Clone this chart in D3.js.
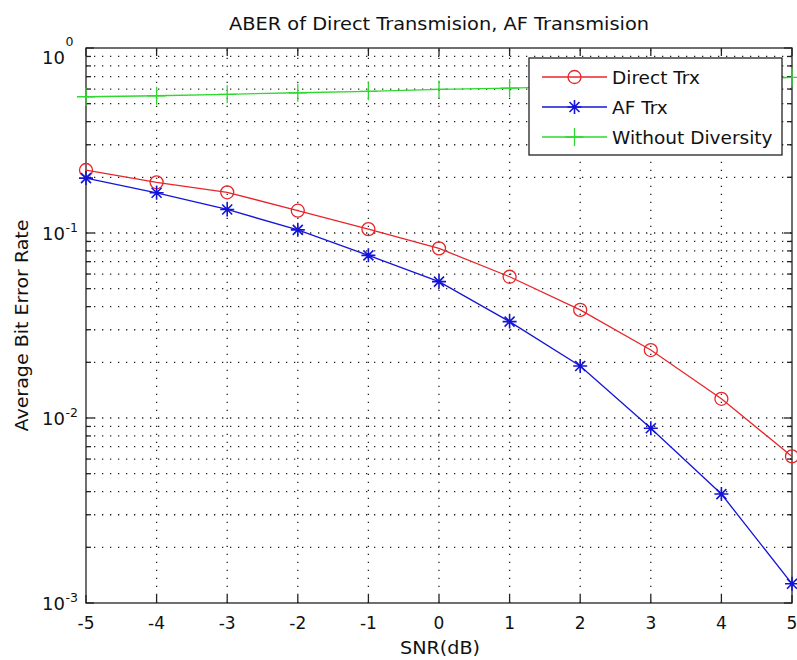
<!DOCTYPE html>
<html>
<head>
<meta charset="utf-8">
<script src="https://cdn.jsdelivr.net/npm/d3@7"></script>
<style>
html,body{margin:0;padding:0;background:#fff;}
svg{display:block;}
text{font-family:"DejaVu Sans",sans-serif;fill:#111;}
</style>
</head>
<body>
<svg id="chart" width="797" height="660"></svg>
<script>
// ---- data ----
const snr = [-5, -4, -3, -2, -1, 0, 1, 2, 3, 4, 5];
const directTrx = [0.219, 0.188, 0.166, 0.132, 0.105, 0.0826, 0.058, 0.0384, 0.0233, 0.0127, 0.0062];
const afTrx = [0.198, 0.165, 0.134, 0.104, 0.0757, 0.0546, 0.0332, 0.0191, 0.0088, 0.00388, 0.00127];
const withoutDiversity = [0.545, 0.552, 0.562, 0.573, 0.583, 0.597, 0.607, 0.62, 0.64, 0.665, 0.694];
const xTicks = [-5, -4, -3, -2, -1, 0, 1, 2, 3, 4, 5];
const yExponents = [0, -1, -2, -3];
const seriesNames = ["Direct Trx", "AF Trx", "Without Diversity"];
const titleText = "ABER of Direct Transmision, AF Transmision";
const xLabel = "SNR(dB)";
const yLabel = "Average Bit Error Rate";

// ---- layout ----
const L = 86, R = 792, T = 48, B = 603;
const svg = d3.select("#chart");
const x = d3.scaleLinear().domain([-5, 5]).range([L, R]);
const y = d3.scaleLog().domain([1e-3, 1]).range([B, T]);

const colors = {"Direct Trx": "#e8262a", "AF Trx": "#1414d8", "Without Diversity": "#2ed82e"};
const markers = {"Direct Trx": "circle", "AF Trx": "star", "Without Diversity": "plus"};
const data = {"Direct Trx": directTrx, "AF Trx": afTrx, "Without Diversity": withoutDiversity};

// minor y values
const yMinor = [];
for (let e = -3; e < 0; e++) for (let m = 2; m <= 9; m++) yMinor.push(m * Math.pow(10, e));
const yMajor = yExponents.map(e => Math.pow(10, e));

// ---- grid ----
const grid = svg.append("g").attr("stroke", "#222").attr("stroke-width", 1.3)
  .attr("stroke-dasharray", "1.3,6.7").attr("fill", "none");
xTicks.slice(1, -1).forEach(v => {
  grid.append("line").attr("x1", x(v)).attr("x2", x(v)).attr("y1", B).attr("y2", T);
});
yMajor.concat(yMinor).forEach(v => {
  if (v <= 1e-3 || v >= 1) return;
  grid.append("line").attr("y1", y(v)).attr("y2", y(v)).attr("x1", L).attr("x2", R);
});

// ---- axes box and inward ticks ----
const ax = svg.append("g").attr("stroke", "#222").attr("stroke-width", 1.3);
ax.append("rect").attr("x", L).attr("y", T).attr("width", R - L).attr("height", B - T).attr("fill", "none");
xTicks.forEach(v => {
  ax.append("line").attr("x1", x(v)).attr("x2", x(v)).attr("y1", B).attr("y2", B - 8);
  ax.append("line").attr("x1", x(v)).attr("x2", x(v)).attr("y1", T).attr("y2", T + 8);
});
yMajor.forEach(v => {
  ax.append("line").attr("x1", L).attr("x2", L + 8).attr("y1", y(v)).attr("y2", y(v));
  ax.append("line").attr("x1", R).attr("x2", R - 8).attr("y1", y(v)).attr("y2", y(v));
});
yMinor.forEach(v => {
  ax.append("line").attr("x1", L).attr("x2", L + 5).attr("y1", y(v)).attr("y2", y(v));
  ax.append("line").attr("x1", R).attr("x2", R - 5).attr("y1", y(v)).attr("y2", y(v));
});

// ---- tick labels ----
xTicks.forEach(v => {
  svg.append("text").attr("x", x(v)).attr("y", 629).attr("text-anchor", "middle")
    .attr("font-size", 17).text(v);
});
yExponents.forEach(e => {
  const yy = y(Math.pow(10, e));
  const off = e === 0 ? 9 : 0;
  svg.append("text").attr("x", 65).attr("y", yy + 7 + off).attr("text-anchor", "end")
    .attr("font-size", 18).text("10");
  svg.append("text").attr("x", 65.5).attr("y", yy - 1 + (e === 0 ? -1 : 0)).attr("text-anchor", "start")
    .attr("font-size", 12.5).text(e);
});

// ---- axis labels and title ----
svg.append("text").attr("x", x(0)).attr("y", 30).attr("text-anchor", "middle")
  .attr("font-size", 17).attr("textLength", 420).attr("lengthAdjust", "spacingAndGlyphs").text(titleText);
svg.append("text").attr("x", x(0) + 1).attr("y", 654).attr("text-anchor", "middle")
  .attr("font-size", 17).attr("textLength", 80).attr("lengthAdjust", "spacingAndGlyphs").text(xLabel);
svg.append("text").attr("transform", `translate(28,${(T + B) / 2}) rotate(-90)`)
  .attr("text-anchor", "middle").attr("font-size", 17).attr("textLength", 212)
  .attr("lengthAdjust", "spacingAndGlyphs").text(yLabel);

// ---- marker drawing ----
function drawMarker(g, type, cx, cy, color) {
  if (type === "circle") {
    g.append("circle").attr("cx", cx).attr("cy", cy).attr("r", 6.5)
      .attr("fill", "none").attr("stroke", color).attr("stroke-width", 1.3);
  } else if (type === "star") {
    const s = 7, d = 5;
    const p = `M${cx - s},${cy}L${cx + s},${cy}M${cx},${cy - s}L${cx},${cy + s}` +
      `M${cx - d},${cy - d}L${cx + d},${cy + d}M${cx - d},${cy + d}L${cx + d},${cy - d}`;
    g.append("path").attr("d", p).attr("stroke", color).attr("stroke-width", 1.6).attr("fill", "none");
  } else {
    const s = 9;
    const p = `M${cx - s},${cy}L${cx + s},${cy}M${cx},${cy - s}L${cx},${cy + s}`;
    g.append("path").attr("d", p).attr("stroke", color).attr("stroke-width", 1.3).attr("fill", "none");
  }
}

// ---- series ----
const line = d3.line().x(d => x(d[0])).y(d => y(d[1]));
seriesNames.forEach(name => {
  const pts = snr.map((s, i) => [s, data[name][i]]);
  const g = svg.append("g");
  g.append("path").datum(pts).attr("d", line).attr("fill", "none")
    .attr("stroke", colors[name]).attr("stroke-width", 1.3);
  pts.forEach(p => drawMarker(g, markers[name], x(p[0]), y(p[1]), colors[name]));
});

// ---- legend ----
const lg = svg.append("g");
lg.append("rect").attr("x", 529).attr("y", 58).attr("width", 253).attr("height", 97)
  .attr("fill", "#fff").attr("stroke", "#222").attr("stroke-width", 1.3);
seriesNames.forEach((name, i) => {
  const ry = 77 + i * 30;
  lg.append("line").attr("x1", 542).attr("x2", 607).attr("y1", ry).attr("y2", ry)
    .attr("stroke", colors[name]).attr("stroke-width", 1.3);
  drawMarker(lg, markers[name], 574.5, ry, colors[name]);
  lg.append("text").attr("x", 612).attr("y", ry + 6.5).attr("font-size", 18.5).text(name);
});
</script>
</body>
</html>
